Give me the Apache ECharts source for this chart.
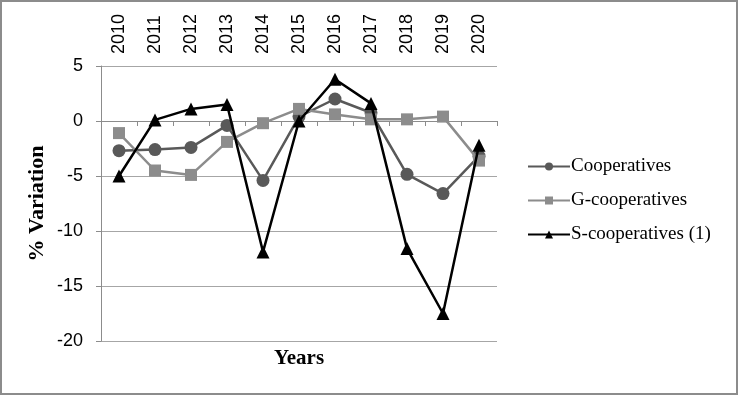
<!DOCTYPE html>
<html>
<head>
<meta charset="utf-8">
<script src="https://cdn.jsdelivr.net/npm/echarts@6/dist/echarts.min.js"></script>
<style>
html,body{margin:0;padding:0;background:#fff;}
#wrap{position:absolute;left:0;top:0;width:734px;height:391px;border:2px solid #8c8c8c;}
#chart{width:734px;height:391px;}
</style>
</head>
<body>
<div id="wrap"><div id="chart"></div></div>
<script>
const years = ['2010','2011','2012','2013','2014','2015','2016','2017','2018','2019','2020'];
const cooperatives = [-2.7, -2.6, -2.4, -0.4, -5.4, 0.4, 2.0, 0.75, -4.85, -6.6, -3.2];
const gCooperatives = [-1.1, -4.5, -4.9, -1.9, -0.2, 1.1, 0.6, 0.15, 0.15, 0.4, -3.6];
const sCooperatives = [-5.0, 0.1, 1.1, 1.5, -11.9, 0.0, 3.8, 1.6, -11.6, -17.5, -2.2];
const yTicks = {min: -20, max: 5, interval: 5};

const chart = echarts.init(document.getElementById('chart'), null, {renderer: 'canvas'});
const serif = '"Liberation Serif", "DejaVu Serif", serif';
const sans = '"Liberation Sans", "DejaVu Sans", sans-serif';
function mk(name, data, color, symbol, size, z) {
  return {
    name, type: 'line', data, xAxisIndex: 0,
    symbol, symbolSize: size, z,
    lineStyle: {color, width: 2.5},
    itemStyle: {color},
    emphasis: {disabled: true},
    animation: false
  };
}
chart.setOption({
  animation: false,
  grid: {left: 99, right: 239, top: 64, bottom: 52, containLabel: false},
  legend: {
    orient: 'vertical', left: 520, top: 150, itemGap: 15,
    itemWidth: 42, itemHeight: 10,
    textStyle: {fontFamily: serif, fontSize: 19, color: '#000', padding: [0,0,0,-4]},
    data: ['Cooperatives', 'G-cooperatives', 'S-cooperatives (1)']
  },
  xAxis: [
    {
      type: 'category', data: years, boundaryGap: true, position: 'bottom',
      axisLine: {onZero: true, lineStyle: {color: '#8c8c8c', width: 1}},
      axisTick: {show: true, length: 5, inside: false, lineStyle: {color: '#8c8c8c'}},
      axisLabel: {show: false},
      splitLine: {show: false},
      name: 'Years', nameLocation: 'middle', nameGap: 7,
      nameTextStyle: {fontFamily: serif, fontWeight: 'bold', fontSize: 21, color: '#000'}
    },
    {
      type: 'category', data: years, boundaryGap: true, position: 'top',
      axisLine: {show: false}, axisTick: {show: false},
      axisLabel: {show: true, rotate: -90, margin: 12, fontFamily: sans, fontSize: 18, color: '#000'},
      splitLine: {show: false}
    }
  ],
  yAxis: {
    type: 'value', min: yTicks.min, max: yTicks.max, interval: yTicks.interval,
    axisLine: {show: true, lineStyle: {color: '#8c8c8c'}},
    axisTick: {show: true, length: 5, lineStyle: {color: '#8c8c8c'}},
    axisLabel: {margin: 18, fontFamily: sans, fontSize: 18, color: '#000'},
    splitLine: {show: true, lineStyle: {color: '#a6a6a6', width: 1}},
    name: '% Variation', nameLocation: 'middle', nameGap: 53, nameRotate: 90,
    nameMoveOverlap: false,
    nameTextStyle: {fontFamily: serif, fontWeight: 'bold', fontSize: 22, color: '#000'}
  },
  series: [
    mk('Cooperatives', cooperatives, '#595959', 'circle', 13, 2),
    mk('G-cooperatives', gCooperatives, '#8c8c8c', 'rect', 12, 3),
    mk('S-cooperatives (1)', sCooperatives, '#000000', 'triangle', 13, 4)
  ]
});
</script>
</body>
</html>
